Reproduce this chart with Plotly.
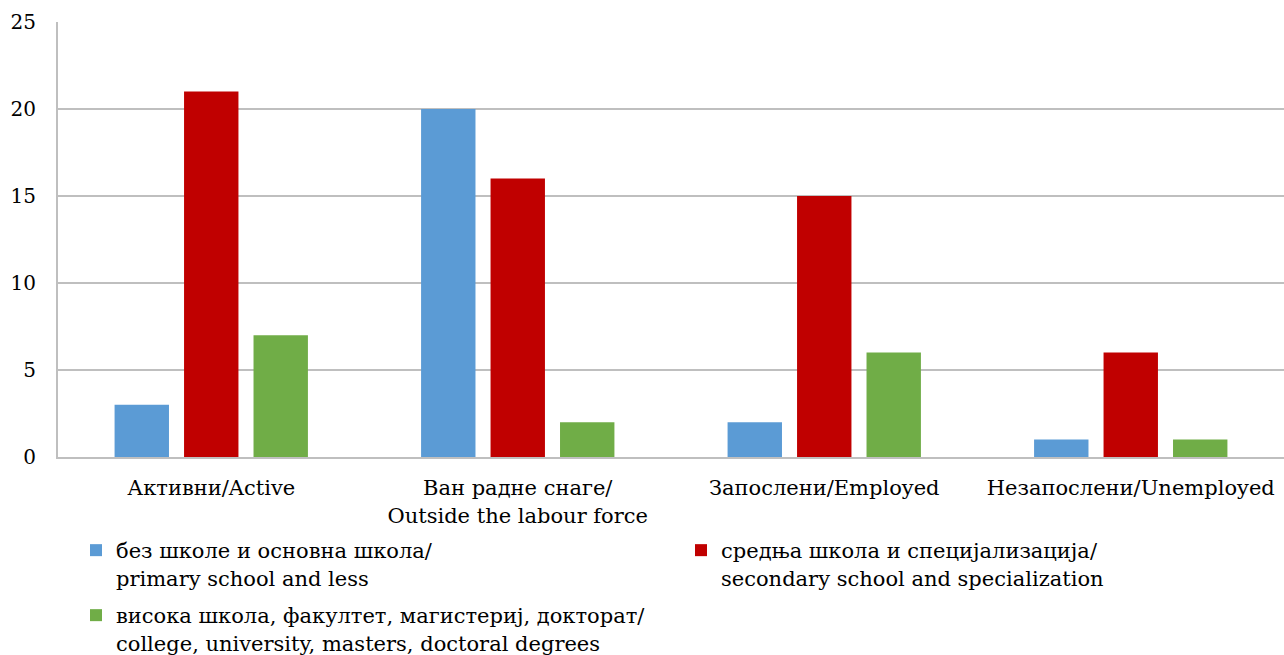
import plotly.graph_objects as go

categories = ["Активни/Active", "Ван радне снаге/<br>Outside the labour force",
              "Запослени/Employed", "Незапослени/Unemployed"]
series_names = ["без школе и основна школа/<br>primary school and less",
                "средња школа и специјализација/<br>secondary school and specialization",
                "висока школа, факултет, магистериј, докторат/<br>college, university, masters, doctoral degrees"]
primary = [3, 20, 2, 1]
secondary = [21, 16, 15, 6]
college = [7, 2, 6, 1]
colors = ["#5B9BD5", "#C00000", "#70AD47"]
legend_ids = ["legend", "legend", "legend2"]

FONT = "DejaVu Serif"
FS = 21

fig = go.Figure()
for name, vals, col, lg in zip(series_names, [primary, secondary, college], colors, legend_ids):
    fig.add_trace(go.Bar(x=categories, y=vals, name=name, legend=lg,
                         marker=dict(color=col, line=dict(width=0))))

legend_common = dict(orientation="h", xref="container", yref="container",
                     x=76/1284, xanchor="left", yanchor="top",
                     entrywidth=560, entrywidthmode="pixels", valign="top",
                     font=dict(family=FONT, size=FS, color="#000000"),
                     itemsizing="constant", bgcolor="rgba(0,0,0,0)")

fig.update_layout(
    width=1284, height=655,
    margin=dict(l=58, r=0, t=22, b=198, autoexpand=False),
    paper_bgcolor="white", plot_bgcolor="white",
    barmode="group", bargap=0.32, bargroupgap=0.217,
    font=dict(family=FONT, size=FS, color="#000000"),
    showlegend=True,
    legend=dict(y=1-530/655, **legend_common),
    legend2=dict(y=1-595/655, **legend_common),
)
fig.update_xaxes(showgrid=False, showline=True, linecolor="#BFBFBF", linewidth=2,
                 ticks="", automargin=False, ticklabelstandoff=11,
                 tickfont=dict(family=FONT, size=FS))
fig.update_yaxes(range=[0, 25], dtick=5, showgrid=True, gridcolor="#BFBFBF", gridwidth=2,
                 showline=True, linecolor="#BFBFBF", linewidth=2, zeroline=False,
                 ticks="", automargin=False, ticklabelstandoff=16,
                 tickfont=dict(family=FONT, size=20))

fig.write_html("out.html", config={"displayModeBar": False},
               post_script="document.body.style.margin='0px';document.body.style.overflow='hidden';")
